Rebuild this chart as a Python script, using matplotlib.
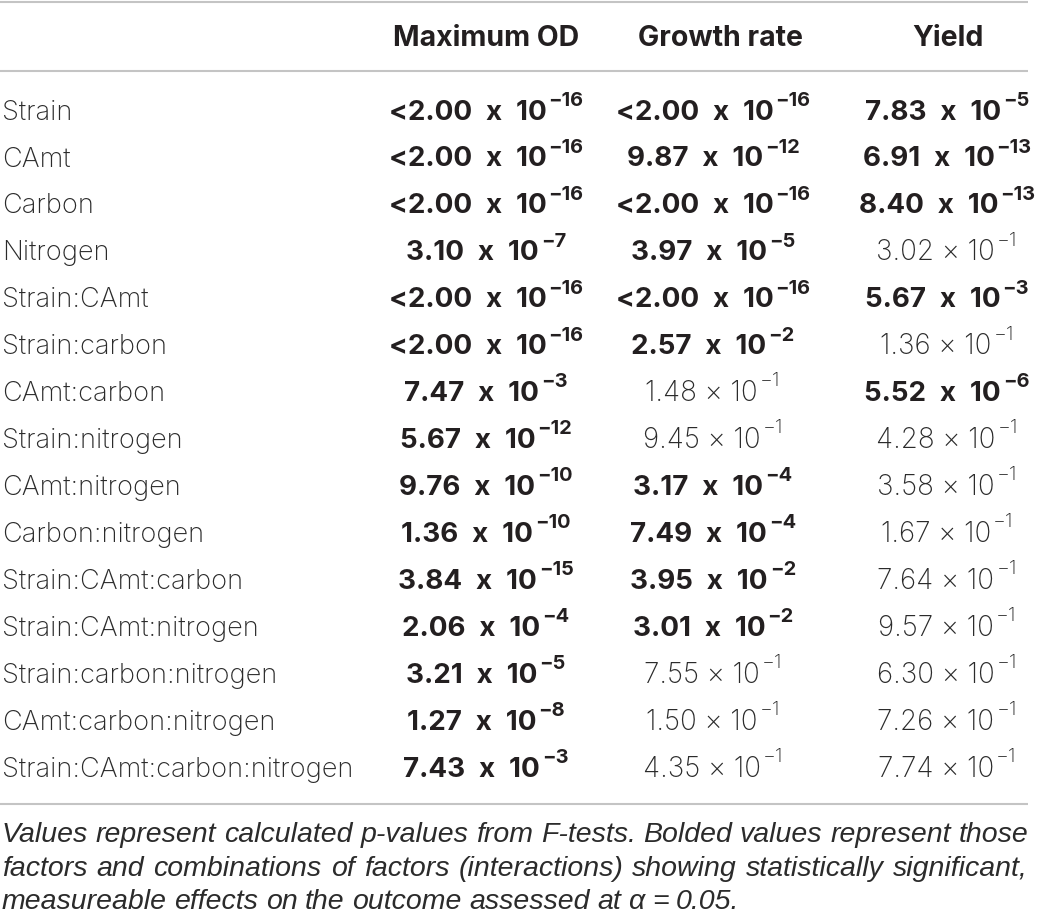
import matplotlib
matplotlib.use("Agg")
import matplotlib.pyplot as plt

factors = ["Strain", "CAmt", "Carbon", "Nitrogen", "Strain:CAmt", "Strain:carbon",
           "CAmt:carbon", "Strain:nitrogen", "CAmt:nitrogen", "Carbon:nitrogen",
           "Strain:CAmt:carbon", "Strain:CAmt:nitrogen", "Strain:carbon:nitrogen",
           "CAmt:carbon:nitrogen", "Strain:CAmt:carbon:nitrogen"]
columns = ["Maximum OD", "Growth rate", "Yield"]

# p-values as (mantissa, exponent); "<" marks values below the reporting limit
max_od = [("<2.00", -16), ("<2.00", -16), ("<2.00", -16), ("3.10", -7), ("<2.00", -16),
          ("<2.00", -16), ("7.47", -3), ("5.67", -12), ("9.76", -10), ("1.36", -10),
          ("3.84", -15), ("2.06", -4), ("3.21", -5), ("1.27", -8), ("7.43", -3)]
growth_rate = [("<2.00", -16), ("9.87", -12), ("<2.00", -16), ("3.97", -5), ("<2.00", -16),
               ("2.57", -2), ("1.48", -1), ("9.45", -1), ("3.17", -4), ("7.49", -4),
               ("3.95", -2), ("3.01", -2), ("7.55", -1), ("1.50", -1), ("4.35", -1)]
yield_vals = [("7.83", -5), ("6.91", -13), ("8.40", -13), ("3.02", -1), ("5.67", -3),
              ("1.36", -1), ("5.52", -6), ("4.28", -1), ("3.58", -1), ("1.67", -1),
              ("7.64", -1), ("9.57", -1), ("6.30", -1), ("7.26", -1), ("7.74", -1)]
alpha = 0.05

caption = ["Values represent calculated p-values from F-tests. Bolded values represent those",
           "factors and combinations of factors (interactions) showing statistically significant,",
           "measureable effects on the outcome assessed at \u03b1 = 0.05."]

W, H = 1038, 918
INK = "#231f20"
LIGHT_INK = "#2b2b2b"
RULE = "#c4c4c4"

fig = plt.figure(figsize=(W / 100, H / 100), dpi=100)
ax = fig.add_axes([0, 0, 1, 1])
ax.set_xlim(0, W)
ax.set_ylim(H, 0)
ax.axis("off")

bold_font = dict(family=["Inter", "Liberation Sans"], weight="bold", color=INK)
light_font = dict(family=["Inter", "Liberation Sans"], weight="light", color=LIGHT_INK)
cap_font = dict(family=["Liberation Sans Narrow", "Liberation Sans"], style="italic",
                color=LIGHT_INK, size=20.5)

# rules
for y in (2, 71, 804):
    ax.plot([0, 1028], [y, y], color=RULE, lw=1.5, solid_capstyle="butt")

# header
head_x = [486, 720, 948]
for x, name in zip(head_x, columns):
    ax.text(x, 46, name, ha="center", va="baseline", size=20.5, **bold_font)

col_x = [486, 713, 947]
row_y0, row_dy = 119.5, 46.93
cells = []
for i, f in enumerate(factors):
    y = row_y0 + i * row_dy
    ax.text(2, y, f, ha="left", va="baseline", size=19.6, **light_font)
    for x, col in zip(col_x, (max_od, growth_rate, yield_vals)):
        mant, ex = col[i]
        p = float(mant.lstrip("<")) * 10.0 ** ex
        if p < alpha:
            fp, size = bold_font, 20
            base = mant + "\u2002x\u200210"
        else:
            fp, size = light_font, 20
            base = mant + " \u00d7 10"
        t = ax.text(x, y, base, ha="left", va="baseline", size=size, **fp)
        e = ax.annotate("\u2212" + str(abs(ex)), xy=(1, 1), xycoords=t,
                        xytext=(1.5, 5.5), textcoords="offset points",
                        ha="left", va="top", size=size * 0.72, **fp)
        cells.append((t, e, x))

r = fig.canvas.get_renderer()
for t, e, x in cells:
    b0 = t.get_window_extent(r)
    b1 = e.get_window_extent(r)
    total = b1.x1 - b0.x0
    t.set_x(x - total / 2)

# caption, justified between the rule ends
cap_y = [842, 876, 909]
for k, (line, y) in enumerate(zip(caption, cap_y)):
    words = line.split(" ")
    texts = [ax.text(0, y, w, ha="left", va="baseline", **cap_font) for w in words]
    widths = [t.get_window_extent(r).width for t in texts]
    if k < len(caption) - 1:
        gap = (1028 - 2 - sum(widths)) / (len(words) - 1)
    else:
        gap = 7.5
    xx = 2
    for t, w in zip(texts, widths):
        t.set_x(xx)
        xx += w + gap

fig.savefig("out.png", dpi=100)
